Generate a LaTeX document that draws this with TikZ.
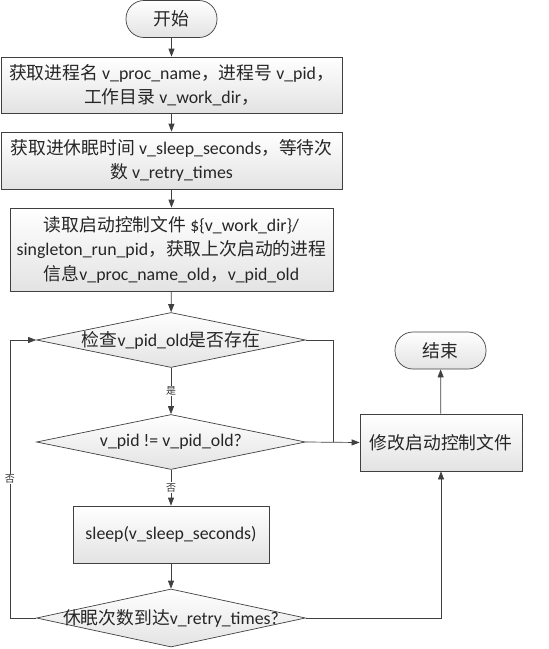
\documentclass[tikz,border=0pt]{standalone}
\usepackage{fontspec}
\setmainfont{Carlito}
\newfontfamily\cjk{Noto Sans CJK SC}
\usetikzlibrary{arrows.meta,shapes.geometric}
\begin{document}
\begin{tikzpicture}[x=1pt,y=-1pt,
  line/.style={draw=black!75, line width=0.7pt},
  arr/.style={line, -{Triangle[length=8pt,width=6pt]}},
  boxbase/.style={draw=black!75, line width=0.7pt, top color=white, bottom color=black!11, inner sep=0pt, align=center, text=black!85, font=\fontsize{17.8}{24.5}\selectfont},
  proc/.style={boxbase, rectangle},
  term/.style={boxbase, rectangle, rounded corners=18pt},
  dia/.style={boxbase, diamond, minimum width=269pt, minimum height=55pt},
  txt/.style={inner sep=0pt, align=center, text=black!85, font=\fontsize{17.8}{24.5}\selectfont},
  lab/.style={fill=white, inner sep=1pt, text=black!80, font=\cjk\fontsize{10}{10}\selectfont}
]
\useasboundingbox (0,0) rectangle (549,649);

\node[term, minimum width=91pt, minimum height=37pt] (start) at (171.5,19) {{\cjk 开始}};
\node[proc, minimum width=341pt, minimum height=56pt] (b1) at (171.5,85)
  {{\cjk 获取进程名} v\_proc\_name{\cjk ，进程号} v\_pid{\cjk ，}\\{\cjk 工作目录} v\_work\_dir{\cjk ，}};
\node[proc, minimum width=341pt, minimum height=57pt] (b2) at (171.5,160.5)
  {{\cjk 获取进休眠时间} v\_sleep\_seconds{\cjk ，等待次}\\{\cjk 数} v\_retry\_times};
\node[proc, minimum width=323pt, minimum height=83pt] (b3) at (171.5,249.5)
  {{\cjk 读取启动控制文件} \$\{v\_work\_dir\}/\\singleton\_run\_pid{\cjk ，获取上次启动的进程}\\{\cjk 信息}v\_proc\_name\_old{\cjk ，}v\_pid\_old};
\node[dia] (d1) at (171,340) {};
\node[txt] (d1t) at (171,340) {{\cjk 检查}v\_pid\_old{\cjk 是否存在}};
\node[dia] (d2) at (171,442) {};
\node[txt] (d2t) at (171,442) {v\_pid != v\_pid\_old?};
\node[proc, minimum width=196pt, minimum height=57pt] (sl) at (171,534.5) {sleep(v\_sleep\_seconds)};
\node[dia, minimum height=58pt] (d3) at (171,618) {};
\node[txt] (d3t) at (171,618) {{\cjk 休眠次数到达}v\_retry\_times?};
\node[term, minimum width=91pt, minimum height=37pt] (end) at (440.5,350.5) {{\cjk 结束}};
\node[proc, minimum width=162pt, minimum height=57pt] (mod) at (441,442.5) {{\cjk 修改启动控制文件}};

\coordinate (lb) at (10,618);
\coordinate (lt) at (10,340);
\coordinate (rt) at (333,340);
\coordinate (rb) at (333,442);

\draw[arr] (start) -- (b1);
\draw[arr] (b1) -- (b2);
\draw[arr] (b2) -- (b3);
\draw[arr] (b3) -- (d1);
\draw[arr] (d1) -- node[lab] {是} (d2);
\draw[arr] (d2) -- node[lab] {否} (sl);
\draw[arr] (sl) -- (d3);
\draw[arr] (d3.west) -- (lb) -- node[lab] {否} (lt) -- (d1.west);
\draw[line] (d1.east) -- (rt) -- (rb);
\draw[arr] (d2.east) -- (mod.west);
\draw[arr] (d3.east) -| (mod.south);
\draw[arr] (mod) -- (end);
\end{tikzpicture}
\end{document}
